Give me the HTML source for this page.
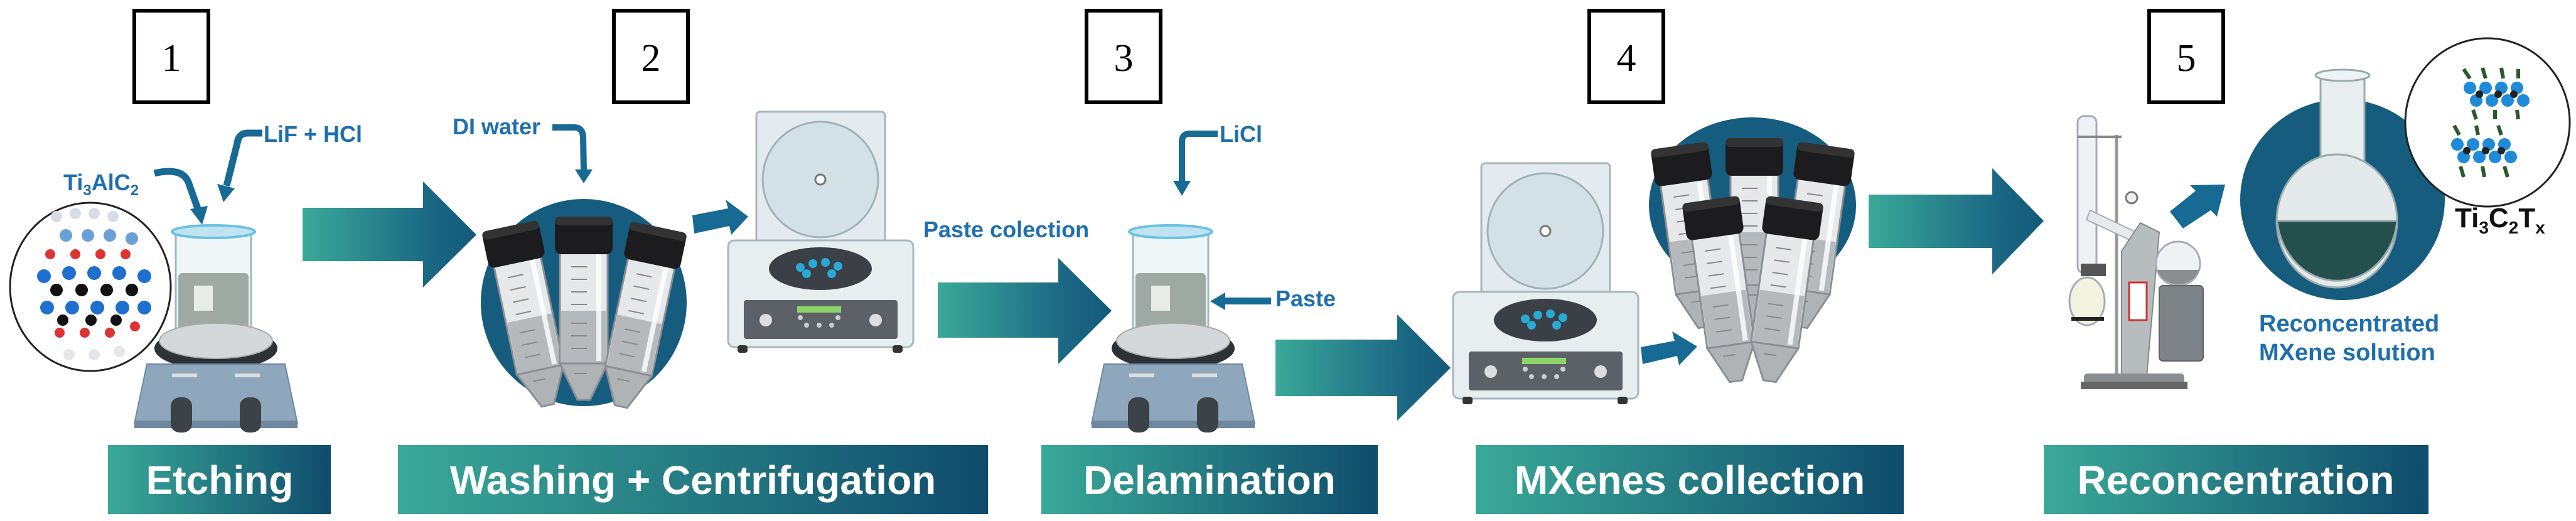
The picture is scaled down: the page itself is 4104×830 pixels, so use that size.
<!DOCTYPE html>
<html><head><meta charset="utf-8"><style>
html,body{margin:0;padding:0;background:#fff;}
svg{display:block;}
.lbl{font-family:"Liberation Sans Narrow","Liberation Sans",sans-serif;font-weight:bold;fill:#1f6fae;}
.ban{font-family:"Liberation Sans",sans-serif;font-weight:bold;fill:#fff;font-size:64px;}
.num{font-family:"Liberation Serif",serif;font-size:62px;fill:#000;}
</style></head><body>
<svg width="4104" height="830" viewBox="0 0 4104 830" xmlns="http://www.w3.org/2000/svg">
<defs>
<linearGradient id="g" x1="0" x2="1" y1="0" y2="0"><stop offset="0" stop-color="#3aa998"/><stop offset="1" stop-color="#0f4c6d"/></linearGradient>
<linearGradient id="ga" x1="0" x2="1" y1="0" y2="0"><stop offset="0" stop-color="#3aa998"/><stop offset="0.75" stop-color="#1a6683"/><stop offset="1" stop-color="#145a7a"/></linearGradient>
<g id="tube">
<rect x="-38" y="56" width="76" height="178" fill="#e6e8ea" stroke="#8a8f94" stroke-width="3"/>
<rect x="-36" y="150" width="72" height="84" fill="#b6b9bc"/>
<polygon points="-38,234 38,234 10,292 -10,292" fill="#b0b3b6" stroke="#8a8f94" stroke-width="3"/>
<g stroke="#888" stroke-width="2"><line x1="-20" y1="80" x2="5" y2="80"/><line x1="-20" y1="100" x2="5" y2="100"/><line x1="-20" y1="120" x2="5" y2="120"/><line x1="-20" y1="140" x2="5" y2="140"/><line x1="-20" y1="170" x2="5" y2="170"/><line x1="-20" y1="190" x2="5" y2="190"/><line x1="-20" y1="210" x2="5" y2="210"/><line x1="-15" y1="250" x2="5" y2="250"/></g>
<rect x="20" y="60" width="8" height="170" fill="#fff" opacity=".8"/>
<rect x="-46" y="0" width="92" height="60" rx="10" fill="#1c1c1e"/>
<rect x="-46" y="0" width="92" height="14" rx="7" fill="#333"/>
</g>
<g id="cent">
<rect x="45" y="0" width="205" height="220" rx="6" fill="#e3ebee" stroke="#a8b6bd" stroke-width="3"/>
<circle cx="147" cy="108" r="92" fill="#d3e1e6" stroke="#9fb2ba" stroke-width="3"/>
<circle cx="147" cy="108" r="8" fill="#fff" stroke="#777" stroke-width="3"/>
<rect x="0" y="205" width="295" height="170" rx="10" fill="#e6eef0" stroke="#a8b6bd" stroke-width="3"/>
<ellipse cx="147" cy="250" rx="82" ry="34" fill="#3a4045"/>
<g fill="#2aa9d6"><circle cx="115" cy="248" r="7"/><circle cx="135" cy="242" r="7"/><circle cx="155" cy="240" r="7"/><circle cx="175" cy="246" r="7"/><circle cx="125" cy="258" r="7"/><circle cx="165" cy="258" r="7"/></g>
<rect x="25" y="300" width="245" height="62" rx="4" fill="#5b6166"/>
<rect x="110" y="310" width="70" height="10" fill="#8fd46a"/>
<circle cx="60" cy="332" r="10" fill="#ddd"/><circle cx="235" cy="332" r="10" fill="#ddd"/>
<g fill="#ccc"><circle cx="125" cy="340" r="4"/><circle cx="145" cy="340" r="4"/><circle cx="165" cy="340" r="4"/><circle cx="115" cy="328" r="4"/><circle cx="175" cy="328" r="4"/></g>
<rect x="15" y="372" width="16" height="12" rx="4" fill="#333"/><rect x="262" y="372" width="16" height="12" rx="4" fill="#333"/>
</g>
<g id="plate">
<rect x="66" y="8" width="120" height="165" rx="8" fill="#eef6f8" stroke="#9bb" stroke-width="3"/>
<ellipse cx="126" cy="14" rx="66" ry="10" fill="#bfe3f0" stroke="#6cc0e0" stroke-width="4"/>
<rect x="70" y="80" width="112" height="90" rx="6" fill="#9ea9a4"/>
<rect x="95" y="100" width="30" height="40" fill="#e8ece9"/>
<ellipse cx="130" cy="200" rx="98" ry="34" fill="#2d3236"/>
<ellipse cx="130" cy="188" rx="90" ry="28" fill="#d4d8da" stroke="#aaa" stroke-width="2"/>
<polygon points="20,225 240,225 260,320 0,320" fill="#8fa7bd" stroke="#6f88a0" stroke-width="2"/>
<rect x="0" y="315" width="260" height="12" fill="#6f88a0"/>
<rect x="60" y="240" width="40" height="6" fill="#ddd"/><rect x="160" y="240" width="40" height="6" fill="#ddd"/>
<rect x="58" y="278" width="34" height="56" rx="14" fill="#3b4248"/><rect x="168" y="278" width="34" height="56" rx="14" fill="#3b4248"/>
</g>
</defs>

<!-- number boxes -->
<g fill="none" stroke="#000" stroke-width="6">
<rect x="214" y="17" width="118" height="146"/>
<rect x="978" y="17" width="118" height="146"/>
<rect x="1731" y="17" width="118" height="146"/>
<rect x="2532" y="17" width="118" height="146"/>
<rect x="3424" y="17" width="118" height="146"/>
</g>
<g class="num" text-anchor="middle">
<text x="273" y="113">1</text><text x="1037" y="113">2</text><text x="1790" y="113">3</text><text x="2591" y="113">4</text><text x="3483" y="113">5</text>
</g>

<!-- Stage 1 -->
<ellipse cx="144" cy="457" rx="128" ry="134" fill="#fff" stroke="#222" stroke-width="3"/>
<g>
<g fill="#d8dce8"><circle cx="90" cy="345" r="9"/><circle cx="120" cy="340" r="9"/><circle cx="150" cy="340" r="9"/><circle cx="180" cy="345" r="9"/></g>
<g fill="#6aa0d8"><circle cx="105" cy="375" r="10"/><circle cx="140" cy="375" r="10"/><circle cx="175" cy="375" r="10"/><circle cx="210" cy="380" r="10"/></g>
<g fill="#d33"><circle cx="80" cy="405" r="8"/><circle cx="120" cy="405" r="8"/><circle cx="160" cy="405" r="8"/><circle cx="200" cy="405" r="8"/><circle cx="95" cy="530" r="8"/><circle cx="135" cy="530" r="8"/><circle cx="175" cy="530" r="8"/><circle cx="215" cy="520" r="8"/></g>
<g fill="#1e6fd0"><circle cx="70" cy="440" r="11"/><circle cx="110" cy="435" r="11"/><circle cx="150" cy="435" r="11"/><circle cx="190" cy="435" r="11"/><circle cx="230" cy="440" r="11"/>
<circle cx="75" cy="490" r="11"/><circle cx="115" cy="490" r="11"/><circle cx="155" cy="490" r="11"/><circle cx="195" cy="490" r="11"/><circle cx="230" cy="490" r="11"/></g>
<g fill="#111"><circle cx="90" cy="462" r="10"/><circle cx="130" cy="462" r="10"/><circle cx="170" cy="462" r="10"/><circle cx="210" cy="462" r="10"/><circle cx="100" cy="510" r="9"/><circle cx="145" cy="510" r="9"/><circle cx="185" cy="510" r="9"/></g>
<g fill="#e4e6ec"><circle cx="110" cy="565" r="9"/><circle cx="150" cy="565" r="9"/><circle cx="190" cy="560" r="9"/></g>
</g>
<use href="#plate" x="214" y="355"/>
<text class="lbl" x="420" y="226" font-size="36">LiF + HCl</text>
<text class="lbl" x="101" y="303" font-size="36">Ti<tspan font-size="24" dy="8">3</tspan><tspan dy="-8">AlC</tspan><tspan font-size="24" dy="8">2</tspan></text>
<g fill="none" stroke="#176a93" stroke-width="11"><path d="M418 212 L395 212 Q380 212 378 228 L361 296"/><path d="M246 276 Q290 266 300 290 L316 335"/></g>
<g fill="#176a93"><polygon points="346,293 374,300 356,322"/><polygon points="303,333 331,328 322,358"/></g>

<!-- arrow 1 -->
<polygon points="482,331 674,331 674,289 759,374 674,458 674,416 482,416" fill="url(#ga)"/>

<!-- Stage 2 -->
<text class="lbl" x="721" y="214" font-size="36">DI water</text>
<path d="M880 203 L915 203 Q928 203 929 218 L930 272" fill="none" stroke="#176a93" stroke-width="10"/>
<polygon points="916,270 944,270 930,292" fill="#176a93"/>
<ellipse cx="930" cy="482" rx="164" ry="165" fill="#165c7e"/>
<use href="#tube" transform="translate(812,360) rotate(-12)"/>
<use href="#tube" transform="translate(930,345)"/>
<use href="#tube" transform="translate(1050,362) rotate(12)"/>
<polygon points="1103,343 1160,332 1156,318 1192,345 1165,374 1162,360 1106,372" fill="#176a93"/>
<use href="#cent" x="1160" y="178"/>

<!-- arrow 3 -->
<polygon points="1494,450 1686,450 1686,411 1771,495 1686,580 1686,538 1494,538" fill="url(#ga)"/>

<!-- Stage 3 -->
<text class="lbl" x="1471" y="378" font-size="36">Paste colection</text>
<text class="lbl" x="1943" y="226" font-size="36">LiCl</text>
<path d="M1940 213 L1895 213 Q1883 213 1883 226 L1883 290" fill="none" stroke="#176a93" stroke-width="10"/>
<polygon points="1869,288 1897,288 1883,312" fill="#176a93"/>
<use href="#plate" x="1739" y="355"/>
<rect x="1950" y="474" width="75" height="11" fill="#176a93"/>
<polygon points="1928,480 1952,466 1952,494" fill="#176a93"/>
<text class="lbl" x="2032" y="488" font-size="36">Paste</text>

<!-- arrow 4 -->
<polygon points="2032,541 2226,541 2226,501 2311,586 2226,670 2226,631 2032,631" fill="url(#ga)"/>

<!-- Stage 4 -->
<use href="#cent" x="2315" y="260"/>
<polygon points="2614,553 2668,543 2664,528 2704,552 2675,582 2672,567 2617,580" fill="#176a93"/>
<ellipse cx="2792" cy="327" rx="165" ry="140" fill="#165c7e"/>
<use href="#tube" transform="translate(2675,232) rotate(-8)"/>
<use href="#tube" transform="translate(2795,220)"/>
<use href="#tube" transform="translate(2910,232) rotate(8)"/>
<use href="#tube" transform="translate(2725,318) rotate(-8)"/>
<use href="#tube" transform="translate(2860,318) rotate(8)"/>

<!-- arrow 5 -->
<polygon points="2977,310 3174,310 3174,268 3256,352 3174,437 3174,395 2977,395" fill="url(#ga)"/>

<!-- Rotavap -->
<g>
<rect x="3310" y="185" width="30" height="250" rx="10" fill="#eef2f4" stroke="#aab" stroke-width="3"/>
<line x1="3372" y1="215" x2="3372" y2="600" stroke="#999" stroke-width="5"/>
<line x1="3310" y1="218" x2="3380" y2="218" stroke="#888" stroke-width="4"/>
<circle cx="3396" cy="315" r="9" fill="#eee" stroke="#777" stroke-width="3"/>
<polygon points="3330,335 3420,378 3414,392 3324,350" fill="#e6eaec" stroke="#aab" stroke-width="2"/>
<polygon points="3380,400 3410,355 3440,370 3420,600 3380,600" fill="#b7bcbf" stroke="#888" stroke-width="2"/>
<rect x="3392" y="450" width="28" height="60" fill="#fff" stroke="#c33" stroke-width="3"/>
<circle cx="3470" cy="420" r="35" fill="#eef2f4" stroke="#aab" stroke-width="3"/>
<path d="M3437 430 A35 35 0 0 0 3503 430 Z" fill="#8a8e91"/>
<rect x="3440" y="455" width="70" height="120" rx="6" fill="#7c8286" stroke="#5e6367" stroke-width="2"/>
<ellipse cx="3325" cy="480" rx="28" ry="38" fill="#f1f3df" stroke="#aab" stroke-width="3"/>
<rect x="3300" y="505" width="52" height="6" fill="#222"/>
<rect x="3315" y="420" width="40" height="20" fill="#555"/>
<rect x="3320" y="595" width="160" height="16" rx="6" fill="#8a8e91"/>
<rect x="3315" y="608" width="170" height="12" fill="#666"/>
</g>
<polygon points="3457,337 3498,304 3489,295 3545,294 3532,345 3522,335 3478,364" fill="#176a93"/>

<!-- Stage 5 -->
<ellipse cx="3732" cy="318" rx="163" ry="160" fill="#165c7e"/>
<rect x="3697" y="118" width="70" height="150" fill="#e8eef0" stroke="#9aa" stroke-width="3"/>
<ellipse cx="3732" cy="120" rx="43" ry="9" fill="#eef2f4" stroke="#9aa" stroke-width="3"/>
<ellipse cx="3723" cy="352" rx="96" ry="106" fill="#e4eaec" stroke="#9aa" stroke-width="3"/>
<path d="M3628 352 A96 106 0 0 0 3819 352 Z" fill="#244f4c" stroke="#9aa" stroke-width="3"/>
<ellipse cx="3963" cy="195" rx="131" ry="134" fill="#fff" stroke="#222" stroke-width="3"/>
<g>
<g fill="#1f8ad8"><circle cx="3935" cy="140" r="10"/><circle cx="3960" cy="140" r="10"/><circle cx="3985" cy="140" r="10"/><circle cx="4010" cy="140" r="10"/><circle cx="3945" cy="160" r="10"/><circle cx="3970" cy="160" r="10"/><circle cx="3995" cy="160" r="10"/><circle cx="4020" cy="160" r="10"/>
<circle cx="3915" cy="230" r="10"/><circle cx="3940" cy="230" r="10"/><circle cx="3965" cy="230" r="10"/><circle cx="3990" cy="230" r="10"/><circle cx="3925" cy="250" r="10"/><circle cx="3950" cy="250" r="10"/><circle cx="3975" cy="250" r="10"/><circle cx="4000" cy="250" r="10"/></g>
<g fill="#222"><circle cx="3950" cy="150" r="6"/><circle cx="3980" cy="150" r="6"/><circle cx="4005" cy="150" r="6"/><circle cx="3930" cy="240" r="6"/><circle cx="3960" cy="240" r="6"/><circle cx="3985" cy="240" r="6"/></g>
<g stroke="#2a5a2a" stroke-width="6"><line x1="3925" y1="110" x2="3935" y2="125"/><line x1="3955" y1="108" x2="3960" y2="125"/><line x1="3985" y1="108" x2="3988" y2="125"/><line x1="4012" y1="110" x2="4012" y2="125"/><line x1="3940" y1="175" x2="3945" y2="190"/><line x1="3975" y1="175" x2="3975" y2="190"/><line x1="4010" y1="175" x2="4012" y2="190"/>
<line x1="3910" y1="200" x2="3918" y2="215"/><line x1="3945" y1="200" x2="3948" y2="215"/><line x1="3980" y1="200" x2="3985" y2="215"/><line x1="3920" y1="265" x2="3925" y2="282"/><line x1="3955" y1="265" x2="3958" y2="282"/><line x1="3990" y1="265" x2="3995" y2="282"/></g>
</g>
<text x="3911" y="362" font-family="Liberation Sans Narrow,Liberation Sans,sans-serif" font-weight="bold" font-size="44" fill="#111">Ti<tspan font-size="28" dy="10">3</tspan><tspan dy="-10">C</tspan><tspan font-size="28" dy="10">2</tspan><tspan dy="-10">T</tspan><tspan font-size="28" dy="10">x</tspan></text>
<text class="lbl" x="3599" y="528" font-size="38">Reconcentrated</text>
<text class="lbl" x="3599" y="574" font-size="38">MXene solution</text>

<!-- banners -->
<g fill="url(#g)">
<rect x="172" y="709" width="355" height="110"/>
<rect x="634" y="709" width="940" height="110"/>
<rect x="1659" y="709" width="536" height="110"/>
<rect x="2351" y="709" width="682" height="110"/>
<rect x="3256" y="709" width="613" height="110"/>
</g>
<g class="ban" text-anchor="middle">
<text x="350" y="787">Etching</text>
<text x="1104" y="787">Washing + Centrifugation</text>
<text x="1927" y="787">Delamination</text>
<text x="2692" y="787">MXenes collection</text>
<text x="3562" y="787">Reconcentration</text>
</g>
</svg>
</body></html>
